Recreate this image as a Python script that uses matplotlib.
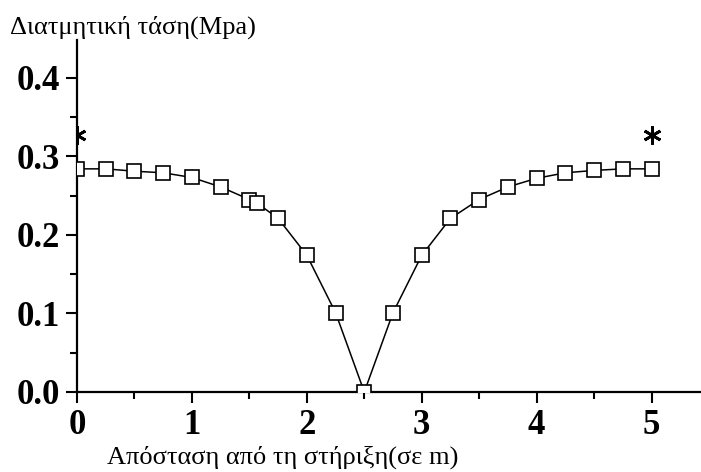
import matplotlib
matplotlib.use("Agg")
import matplotlib.pyplot as plt
from matplotlib.ticker import MultipleLocator

# Data
x_vals = [0.0, 0.25, 0.5, 0.75, 1.0, 1.25, 1.5, 1.57, 1.75, 2.0, 2.25, 2.5,
          2.75, 3.0, 3.25, 3.5, 3.75, 4.0, 4.25, 4.5, 4.75, 5.0]
tau_vals = [0.284, 0.284, 0.281, 0.279, 0.273, 0.261, 0.245, 0.240, 0.221, 0.174, 0.101, 0.0,
            0.101, 0.174, 0.221, 0.245, 0.261, 0.272, 0.279, 0.282, 0.284, 0.284]
star_x = [0.0, 5.0]
star_y = [0.327, 0.327]

y_label = "Διατμητική τάση(Mpa)"
x_label = "Απόσταση από τη στήριξη(σε m)"

fig = plt.figure(figsize=(7.01, 4.72), dpi=100)
ax = fig.add_axes([77/701, 80/472, 1 - 77/701, 352/472])

ax.plot(x_vals, tau_vals, color="black", linewidth=1.1, marker="s",
        markersize=10.5, markerfacecolor="white", markeredgecolor="black",
        markeredgewidth=1.2, zorder=3)
ax.plot(star_x, star_y, linestyle="none", marker=(6, 2, 0), markersize=13,
        markeredgecolor="black", markeredgewidth=2.0, color="black", zorder=3)

ax.set_xlim(0, 5.43)
ax.set_ylim(0, 0.448)
ax.xaxis.set_major_locator(MultipleLocator(1))
ax.xaxis.set_minor_locator(MultipleLocator(0.5))
ax.yaxis.set_major_locator(MultipleLocator(0.1))
ax.yaxis.set_minor_locator(MultipleLocator(0.05))
ax.yaxis.set_major_formatter(plt.FuncFormatter(lambda v, p: f"{v:.1f}"))

for s in ["top", "right"]:
    ax.spines[s].set_visible(False)
for s in ["left", "bottom"]:
    ax.spines[s].set_linewidth(1.6)

ax.tick_params(which="major", direction="out", length=8, width=1.5, pad=4)
ax.tick_params(which="minor", direction="out", length=5, width=1.5)
for lab in ax.get_xticklabels() + ax.get_yticklabels():
    lab.set_fontfamily("Liberation Serif")
    lab.set_fontweight("bold")
    lab.set_fontsize(25)

fig.text(10/701, 1 - 27/472, y_label, fontfamily="Liberation Serif",
         fontsize=19, ha="left", va="center")
fig.text(107/701, 1 - 457/472, x_label, fontfamily="Liberation Serif",
         fontsize=19, ha="left", va="center")

fig.savefig("out.png", dpi=100)
